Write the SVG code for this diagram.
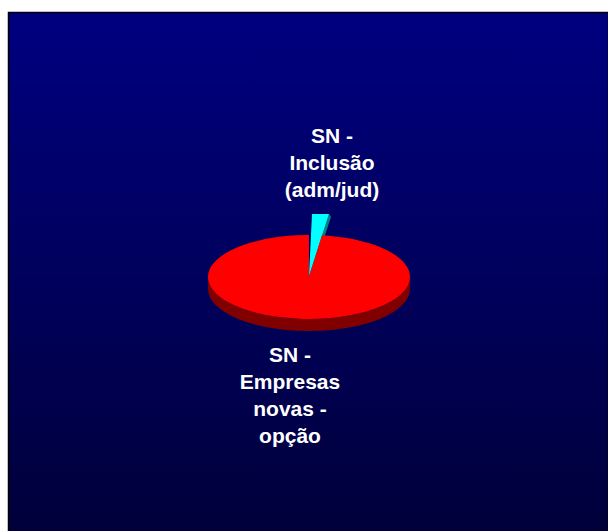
<svg xmlns="http://www.w3.org/2000/svg" width="608" height="531" viewBox="0 0 608 531">
  <defs>
    <linearGradient id="bg" x1="0" y1="0" x2="0" y2="1">
      <stop offset="0" stop-color="#000080"/>
      <stop offset="1" stop-color="#00003a"/>
    </linearGradient>
    <style>
      .lbl { font-family: "Liberation Sans", Arial, sans-serif; font-weight: bold; font-size: 21px; fill: #ffffff; text-anchor: middle; }
    </style>
  </defs>
  <rect x="0" y="0" width="608" height="531" fill="#ffffff"/>
  <rect x="8.5" y="12.5" width="600" height="520" fill="url(#bg)" stroke="#000000" stroke-width="1.5"/>

  <g id="slice-inclusao">
    <polygon points="329,214 331,217 311,278 309,276" fill="#008080"/>
    <polygon points="312,214 329,214 309,276" fill="#00ffff"/>
  </g>

  <g id="slice-empresas">
    <path d="M208 277 A101 42 0 0 0 410 277 L410 289 A101 42 0 0 1 208 289 Z" fill="#800000"/>
    <path d="M309 277 L322 235.35 A101 42 0 1 1 309 235 Z" fill="#ff0000"/>
  </g>

  <g id="label-inclusao">
    <text class="lbl" x="332" y="143">SN -</text>
    <text class="lbl" x="332" y="170">Inclusão</text>
    <text class="lbl" x="332" y="197">(adm/jud)</text>
  </g>
  <g id="label-empresas">
    <text class="lbl" x="290" y="362">SN -</text>
    <text class="lbl" x="290" y="389">Empresas</text>
    <text class="lbl" x="290" y="416">novas -</text>
    <text class="lbl" x="290" y="443">opção</text>
  </g>
  <g id="connectors"/>
</svg>
